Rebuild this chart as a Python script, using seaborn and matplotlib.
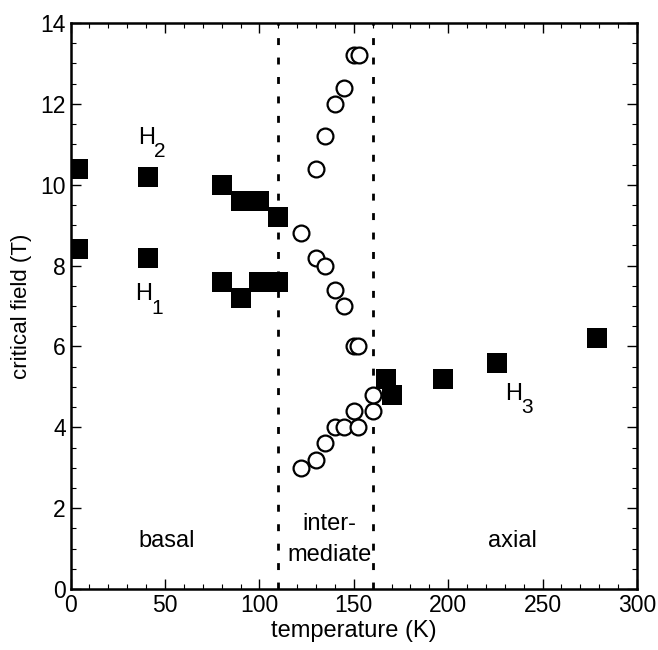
import matplotlib
matplotlib.use("Agg")
import matplotlib.pyplot as plt
import pandas as pd
import seaborn as sns
from matplotlib.ticker import MultipleLocator

# critical field data
h2_temp = [4, 41, 80, 90, 100, 110]
h2_field = [10.4, 10.2, 10.0, 9.6, 9.6, 9.2]
h1_temp = [4, 41, 80, 90, 100, 110]
h1_field = [8.4, 8.2, 7.6, 7.2, 7.6, 7.6]
h3_temp = [167, 170, 197, 226, 279]
h3_field = [5.2, 4.8, 5.2, 5.6, 6.2]

# open circles (intermediate phase)
mid_temp = [150, 153, 145, 140, 135, 130,
            122, 130, 135, 140, 145, 150, 152,
            122, 130, 135, 140, 145, 150, 152, 160, 160]
mid_field = [13.2, 13.2, 12.4, 12.0, 11.2, 10.4,
             8.8, 8.2, 8.0, 7.4, 7.0, 6.0, 6.0,
             3.0, 3.2, 3.6, 4.0, 4.0, 4.4, 4.0, 4.4, 4.8]

phase_bounds = [110, 160]

sns.set_style("ticks")
plt.rcParams["font.family"] = ["Liberation Sans", "DejaVu Sans"]
plt.rcParams["text.color"] = "black"
plt.rcParams["axes.labelcolor"] = "black"

squares = pd.DataFrame({
    "T": h2_temp + h1_temp + h3_temp,
    "H": h2_field + h1_field + h3_field,
})
circles = pd.DataFrame({"T": mid_temp, "H": mid_field})

fig = plt.figure(figsize=(6.58, 6.50), dpi=100)
ax = fig.add_axes([0.1073, 0.0938, 0.8607, 0.8708])

for xb in phase_bounds:
    ax.axvline(xb, color="black", lw=2, linestyle=(0, (2.5, 4.5)), zorder=1)

sns.scatterplot(data=squares, x="T", y="H", marker="s", s=190, color="black",
                edgecolor="black", linewidth=0, ax=ax, zorder=3)
sns.scatterplot(data=circles, x="T", y="H", marker="o", s=130, facecolor="white",
                edgecolor="black", linewidth=1.6, ax=ax, zorder=3)

ax.set_xlim(0, 300)
ax.set_ylim(0, 14)
ax.xaxis.set_major_locator(MultipleLocator(50))
ax.xaxis.set_minor_locator(MultipleLocator(10))
ax.yaxis.set_major_locator(MultipleLocator(2))
ax.yaxis.set_minor_locator(MultipleLocator(0.5))
ax.tick_params(which="both", direction="in", top=True, right=True, labelsize=16.5,
               color="black", labelcolor="black")
ax.tick_params(which="major", length=7, width=1)
ax.tick_params(which="minor", length=3.5, width=0.8)
for sp in ax.spines.values():
    sp.set_visible(True)
    sp.set_linewidth(1.8)
    sp.set_color("black")

ax.set_xlabel("temperature (K)", fontsize=17, labelpad=2)
ax.set_ylabel("critical field (T)", fontsize=16, labelpad=6)

# field labels: "H" with a big, low subscript
for name, sub, tx, ty in [("H", "2", 35.9, 11.0), ("H", "1", 34.3, 7.14), ("H", "3", 230.1, 4.68)]:
    ax.text(tx, ty, name, fontsize=17, ha="left", va="baseline")
    ax.annotate(sub, (tx, ty), xytext=(11.5, -9.5), textcoords="offset points",
                fontsize=15, ha="left", va="baseline")

ax.text(51, 1.2, "basal", fontsize=17, ha="center", va="center")
ax.text(137, 1.6, "inter-", fontsize=17, ha="center", va="center")
ax.text(137, 0.85, "mediate", fontsize=17, ha="center", va="center",
        bbox=dict(facecolor="white", edgecolor="none", pad=0.3), zorder=2)
ax.text(234, 1.2, "axial", fontsize=17, ha="center", va="center")

fig.savefig("out.png", dpi=100)
